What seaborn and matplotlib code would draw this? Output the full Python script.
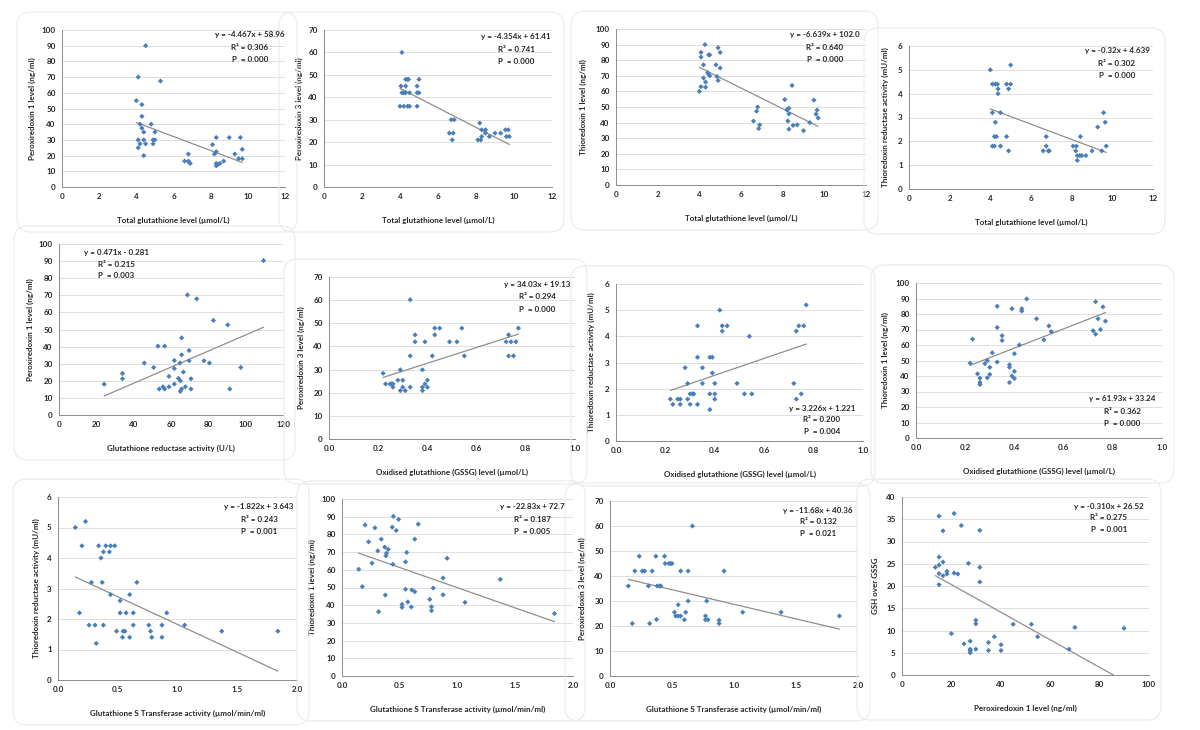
import numpy as np
import matplotlib
matplotlib.use("Agg")
import matplotlib.pyplot as plt
from matplotlib.ticker import FormatStrFormatter
from matplotlib.patches import FancyBboxPatch
from matplotlib.transforms import IdentityTransform
import seaborn as sns

# ---- values (one pair of lists per panel) ----
# row 1: total glutathione vs Prx1 / Prx3 / Trx1 / TrxR
p1_x = [4.0, 4.1, 4.5, 5.3, 4.3, 4.3, 4.2, 4.8, 4.3, 4.4, 4.1, 4.4, 4.2, 4.5, 4.1, 4.4, 5.0, 4.9, 5.0, 4.9,
        6.6, 6.8, 6.8, 6.9, 6.85, 8.1, 8.3, 8.2, 8.3, 8.3, 8.3, 8.4, 8.5, 8.7, 9.0, 9.3, 9.6, 9.7, 9.5, 9.7]
p1_y = [55, 70, 90, 67.5, 52.5, 45, 40, 40, 37.5, 35, 30, 30, 27.5, 27.5, 25, 20, 35, 30, 30, 27.5,
        16.5, 21, 16.5, 15, 15.5, 27, 31.5, 21, 22.5, 15, 13.5, 14.5, 15, 16.5, 31.5, 21, 31.5, 24, 18, 18]

p2_x = [4.1, 4.05, 4.3, 4.3, 4.4, 4.45, 4.1, 4.2, 4.3, 4.5, 4.0, 4.2, 4.4, 4.5, 4.9, 5.0, 4.9, 5.0, 4.9,
        6.6, 6.7, 6.85, 6.8, 6.75, 8.2, 8.1, 8.25, 8.3, 8.3, 8.5, 8.5, 8.7, 9.0, 9.3, 9.55, 9.7, 9.6, 9.75]
p2_y = [60, 45, 45, 48, 48, 48, 42, 42, 42, 42, 36, 36, 36, 36, 45, 48, 42, 42, 36,
        24, 30, 30, 24, 21, 28.5, 21, 21, 22.5, 25.5, 25.5, 24, 22.5, 24, 24, 25.5, 25.5, 22.5, 22.5]

p3_x = [4.27, 4.08, 4.08, 4.9, 5.0, 4.2, 4.45, 4.5, 4.8, 5.0, 4.4, 4.45, 4.5, 4.2, 4.3, 4.85, 4.9, 4.08, 4.3, 4.0,
        6.8, 6.75, 6.6, 6.9, 6.85, 8.1, 8.2, 8.3, 8.3, 8.45, 8.25, 8.5, 8.3, 8.7, 9.0, 9.3, 9.5, 9.6, 9.65, 9.7]
p3_y = [90, 85, 82, 88, 85, 77, 83.4, 83.4, 77, 75, 72, 71, 70, 68.6, 66, 69.5, 67, 63, 62.7, 60,
        50, 47.3, 41, 38.6, 36.2, 54.8, 48.2, 49.2, 45.6, 63.8, 41, 38.2, 35.8, 38.6, 34.8, 40, 54.4, 45.4, 48, 43]

p4_x = [4.0, 4.1, 4.25, 4.35, 4.38, 4.38, 4.8, 5.0, 4.9, 5.0, 4.1, 4.5, 4.25, 4.2, 4.3, 4.8, 4.1, 4.2, 4.5, 4.9,
        6.6, 6.75, 6.75, 6.85, 6.9, 8.07, 8.23, 8.2, 8.28, 8.28, 8.4, 8.5, 8.43, 8.7, 9.0, 9.28, 9.48, 9.57, 9.65, 9.7]
p4_y = [5.0, 4.4, 4.4, 4.4, 4.2, 4.0, 4.4, 4.4, 4.2, 5.2, 3.2, 3.2, 2.8, 2.2, 2.2, 2.2, 1.8, 1.8, 1.8, 1.6,
        1.6, 2.2, 1.8, 1.6, 1.6, 1.8, 1.8, 1.6, 1.4, 1.2, 1.4, 1.4, 2.2, 1.4, 1.6, 2.6, 1.6, 3.2, 2.8, 1.8]

# row 2: GR activity vs Prx1, GSSG vs Prx3 / TrxR / Trx1
p5_x = [24.2, 34, 34, 45.7, 50.7, 53, 56.6, 53.7, 55.7, 56.6, 58.9, 58.9, 61.8, 61.8, 61.8, 64, 65, 64.8, 65.7,
        65.7, 65.7, 65, 66.6, 67.7, 68.8, 69.7, 69.7, 70.7, 70.7, 73.8, 77.7, 80.6, 82.7, 90.4, 91.5, 97.4, 109.6]
p5_y = [18, 24.3, 21.2, 30.4, 27.8, 40.3, 40.3, 15.2, 16.5, 15.2, 22.6, 16.5, 31.9, 27.2, 18.1, 21.4, 20, 30.4, 45.1,
        35.2, 15.2, 13.8, 25.1, 16.5, 70.2, 37.7, 31.7, 21.2, 15.2, 67.9, 31.7, 30.4, 55.3, 52.7, 15.2, 27.8, 90.3]

p6_x = [0.22, 0.23, 0.248, 0.255, 0.26, 0.26, 0.28, 0.29, 0.29, 0.30, 0.30, 0.31, 0.33, 0.33, 0.33, 0.35, 0.35,
        0.38, 0.38, 0.38, 0.39, 0.39, 0.40, 0.40, 0.42, 0.43, 0.45, 0.43, 0.49, 0.52, 0.54, 0.55,
        0.72, 0.73, 0.73, 0.74, 0.75, 0.76, 0.77]
p6_y = [28.4, 23.8, 23.8, 23.8, 23.8, 22.4, 25.4, 29.9, 20.9, 25.4, 22.4, 20.9, 60.2, 35.9, 22.4, 45, 42,
        29.9, 22.4, 20.9, 23.8, 42, 25.4, 22.4, 35.9, 47.9, 47.9, 45, 42, 42, 47.9, 35.9,
        42, 45, 35.9, 42, 35.9, 42, 47.9]

p7_x = [0.22, 0.23, 0.25, 0.26, 0.26, 0.28, 0.29, 0.29, 0.30, 0.31, 0.315, 0.30, 0.33, 0.33, 0.33, 0.35, 0.35,
        0.38, 0.39, 0.38, 0.38, 0.39, 0.40, 0.40, 0.40, 0.42, 0.43, 0.45, 0.43, 0.49, 0.52, 0.54, 0.55,
        0.72, 0.73, 0.73, 0.74, 0.75, 0.76, 0.77]
p7_y = [1.6, 1.4, 1.6, 1.6, 1.4, 2.8, 2.2, 1.6, 1.8, 1.8, 1.8, 1.4, 4.4, 3.2, 1.4, 2.8, 2.2,
        3.2, 3.2, 1.8, 1.2, 2.6, 2.2, 1.8, 1.6, 5.0, 4.4, 4.4, 4.2, 2.2, 1.8, 4.0, 1.8,
        2.2, 4.2, 1.6, 4.4, 1.8, 4.4, 5.2]

p8_x = [0.22, 0.23, 0.25, 0.26, 0.26, 0.26, 0.28, 0.29, 0.29, 0.30, 0.30, 0.31, 0.33, 0.33, 0.33, 0.35, 0.35,
        0.38, 0.38, 0.38, 0.39, 0.39, 0.40, 0.40, 0.40, 0.42, 0.43, 0.43, 0.45, 0.49, 0.52, 0.54, 0.55,
        0.72, 0.73, 0.73, 0.74, 0.75, 0.76, 0.77]
p8_y = [48.3, 63.8, 41.4, 38.6, 35.8, 34.5, 48, 50, 38.8, 45.6, 41, 55, 85, 71.3, 49, 66, 62.9,
        47.3, 45.6, 35.8, 83.4, 40, 54.4, 43, 38.4, 60, 83.4, 81.9, 89.7, 76.9, 63.3, 72.3, 68.6,
        69.2, 87.9, 67, 76.9, 70, 84.6, 75.4]

# row 3: GST activity vs TrxR / Trx1 / Prx3, Prx1 vs GSH/GSSG
p9_x = [0.145, 0.23, 0.20, 0.18, 0.26, 0.28, 0.31, 0.32, 0.34, 0.36, 0.38, 0.37, 0.38, 0.40, 0.43, 0.44, 0.475,
        0.44, 0.49, 0.52, 0.52, 0.545, 0.54, 0.56, 0.57, 0.60, 0.60, 0.63, 0.63, 0.66, 0.76, 0.775, 0.785,
        0.87, 0.87, 0.91, 1.06, 1.37, 1.84]
p9_y = [5.0, 5.2, 4.4, 2.2, 1.8, 3.2, 1.8, 1.2, 4.4, 4.0, 4.2, 3.2, 1.8, 4.4, 4.2, 4.4, 4.4,
        2.8, 1.6, 2.6, 2.2, 1.6, 1.4, 1.6, 2.2, 2.8, 1.4, 2.2, 1.8, 3.2, 1.8, 1.6, 1.4,
        1.8, 1.4, 2.2, 1.8, 1.6, 1.6]

p10_x = [0.145, 0.176, 0.20, 0.23, 0.26, 0.285, 0.31, 0.317, 0.34, 0.37, 0.375, 0.38, 0.385, 0.40, 0.435,
         0.44, 0.445, 0.47, 0.49, 0.52, 0.52, 0.55, 0.55, 0.56, 0.57, 0.60, 0.605, 0.63, 0.63, 0.66,
         0.76, 0.775, 0.775, 0.79, 0.875, 0.875, 0.91, 1.065, 1.37, 1.84]
p10_y = [60.3, 50.5, 85.3, 75.8, 63.7, 83.7, 70.7, 36.3, 77.3, 72.8, 45.7, 67.9, 69.4, 71.6, 84.1,
         63.1, 90.2, 82.2, 88.5, 38.8, 40.5, 64.5, 49, 69.8, 41.8, 39, 48.6, 47.6, 77.3, 85.8,
         43.3, 36.9, 39.1, 49.7, 55.4, 45.9, 66.5, 41.6, 54.6, 35.3]

p11_x = [0.148, 0.18, 0.20, 0.236, 0.26, 0.28, 0.31, 0.32, 0.34, 0.37, 0.375, 0.38, 0.40, 0.41, 0.44,
         0.445, 0.475, 0.49, 0.50, 0.57, 0.52, 0.53, 0.55, 0.57, 0.55, 0.60, 0.61, 0.665, 0.63, 0.63,
         0.78, 0.77, 0.77, 0.79, 0.92, 0.88, 0.88, 1.07, 1.38, 1.85]
p11_y = [36, 21, 42, 47.9, 42, 42, 36, 21, 42, 47.9, 22.6, 36, 36, 36, 47.9,
         45, 45, 45, 45, 42, 25.5, 24, 24, 24, 28.5, 22.5, 25.5, 60, 42, 30,
         30, 24, 22.5, 22.5, 42, 22.3, 21, 25.5, 25.5, 24]

p12_x = [13.5, 15, 15, 15, 15, 15, 16.6, 16.6, 16.6, 18.2, 18.2, 20, 21.1, 21.1, 22.6, 24, 26.9, 27.6, 27.6,
         27.6, 27.6, 25.1, 29.9, 29.9, 29.9, 31.5, 31.5, 31.5, 35, 35, 37.4, 40.1, 40.1, 45, 52.4, 54.9,
         67.6, 70, 89.9]
p12_y = [24.2, 35.7, 26.5, 24.7, 22.8, 20.3, 32.4, 25.4, 22.3, 23.3, 22.7, 9.3, 36.3, 22.9, 22.7, 33.6, 25.1, 7.6, 5.8,
         5.0, 5.5, 7, 12.3, 11.5, 5.8, 32.5, 24.2, 20.9, 7.3, 5.5, 8.6, 6.8, 5.5, 11.4, 11.4, 8.6,
         5.8, 10.7, 10.5]

# trend lines as printed on each panel
fit_slope = [-4.467, -4.354, -6.639, -0.32, 0.471, 34.03, 3.226, 61.93, -1.822, -22.83, -11.68, -0.310]
fit_icept = [58.96, 61.41, 102.0, 4.639, -0.281, 19.13, 1.221, 33.24, 3.643, 72.7, 40.36, 26.52]
eq_text = ["y = -4.467x + 58.96", "y = -4.354x + 61.41", "y = -6.639x + 102.0", "y = -0.32x + 4.639",
           "y = 0.471x - 0.281", "y = 34.03x + 19.13", "y = 3.226x + 1.221", "y = 61.93x + 33.24",
           "y = -1.822x + 3.643", "y = -22.83x + 72.7", "y = -11.68x + 40.36", "y = -0.310x + 26.52"]
r2_text = ["0.306", "0.741", "0.640", "0.302", "0.215", "0.294", "0.200", "0.362", "0.243", "0.187", "0.132", "0.275"]
p_text = ["0.000", "0.000", "0.000", "0.000", "0.003", "0.000", "0.004", "0.000", "0.001", "0.005", "0.021", "0.001"]

tgsh = "Total glutathione level (µmol/L)"
gssg = "Oxidised glutathione (GSSG) level (µmol/L)"
gst = "Glutathione S Transferase activity (µmol/min/ml)"
prx1 = "Peroxiredoxin 1 level (ng/ml)"
prx3 = "Peroxiredoxin 3 level (ng/ml)"
trx1 = "Thioredoxin 1 level (ng/ml)"
trxr = "Thioredoxin reductase activity (mU/ml)"
x_titles = [tgsh, tgsh, tgsh, tgsh, "Glutathione reductase activity (U/L)", gssg, gssg, gssg, gst, gst, gst, prx1]
y_titles = [prx1, prx3, trx1, trxr, prx1, prx3, trxr, trx1, trxr, trx1, prx3, "GSH over GSSG"]

xs_all = [p1_x, p2_x, p3_x, p4_x, p5_x, p6_x, p7_x, p8_x, p9_x, p10_x, p11_x, p12_x]
ys_all = [p1_y, p2_y, p3_y, p4_y, p5_y, p6_y, p7_y, p8_y, p9_y, p10_y, p11_y, p12_y]

# ---- layout (pixels in the 1200x730 canvas) ----
W, H = 1200, 730
boxes = [(62, 285, 30, 187), (324, 552, 30, 187), (616, 866, 29, 185), (909, 1153, 46, 189),
         (59, 283, 244, 415), (329, 575, 277, 439), (616, 863, 284, 441), (916, 1162, 283, 438),
         (58, 297, 497, 680), (342, 573, 499, 676), (610, 858, 501, 676), (902, 1149, 497, 675)]
xaxis = [(12, 2, "%d")] * 4 + [(120, 20, "%d")] + [(1.0, 0.2, "%.1f")] * 3 + [(2.0, 0.5, "%.1f")] * 3 + [(100, 20, "%d")]
yaxis = [(100, 10), (70, 10), (100, 10), (6, 1), (100, 10), (70, 10), (6, 1), (100, 10),
         (6, 1), (100, 10), (70, 10), (40, 5)]
ylab_off = [30, 25, 33, 24, 29, 28, 25, 31, 22, 30, 28, 27]
ann_pos = [(250, 47), (516, 49), (825, 47), (1117, 63), (116, 264), (537, 297), (822, 420), (1122, 411),
           (259, 519), (532, 519), (818, 522), (1109, 518)]

sns.set_style("white")
plt.rcParams["font.family"] = ["Lato", "DejaVu Sans"]
txt = "#262626"
fs = 5.8

fig = plt.figure(figsize=(W / 100, H / 100), dpi=100)

for i in range(12):
    l, r, t, b = boxes[i]
    # faint rounded chart frame, as in the pasted Excel charts
    frame = FancyBboxPatch((l - 45, H - (b + 45)), (r - l) + 57, (b - t) + 63,
                           boxstyle="round,pad=0,rounding_size=14", transform=IdentityTransform(),
                           fill=False, edgecolor="#EAEAEA", linewidth=0.8)
    fig.add_artist(frame)

    ax = fig.add_axes([l / W, 1 - b / H, (r - l) / W, (b - t) / H])
    xs, ys = xs_all[i], ys_all[i]
    sns.scatterplot(x=xs, y=ys, ax=ax, marker="D", s=7, color="#4A7EBB", edgecolor="none", linewidth=0, zorder=3)
    xl = np.array([min(xs), max(xs)])
    ax.plot(xl, fit_slope[i] * xl + fit_icept[i], color="#8E8E8E", lw=0.9, zorder=2)

    xmax, xstep, xf = xaxis[i]
    ymax, ystep = yaxis[i]
    ax.set_xlim(0, xmax)
    ax.set_ylim(0, ymax)
    ax.set_xticks(np.arange(0, xmax + xstep / 2, xstep))
    ax.set_yticks(np.arange(0, ymax + ystep / 2, ystep))
    ax.xaxis.set_major_formatter(FormatStrFormatter(xf))
    ax.yaxis.set_major_formatter(FormatStrFormatter("%d"))
    ax.yaxis.grid(True, color="#D9D9D9", lw=0.6)
    ax.set_axisbelow(True)
    for s in ["top", "right"]:
        ax.spines[s].set_visible(False)
    for s in ["left", "bottom"]:
        ax.spines[s].set_color("#8A8A8A")
        ax.spines[s].set_linewidth(0.7)
    ax.tick_params(length=2.5, width=0.6, color="#8A8A8A", labelsize=fs, labelcolor=txt, pad=2)
    for lab in ax.get_xticklabels() + ax.get_yticklabels():
        lab.set_fontweight("bold")

    ax.set_xlabel(x_titles[i], fontsize=fs, color=txt, fontweight="bold")
    ax.set_ylabel(y_titles[i], fontsize=fs, color=txt, fontweight="bold")
    ax.xaxis.set_label_coords(0.5, -33 / (b - t))
    ax.xaxis.label.set_va("center")
    ax.yaxis.set_label_coords(-ylab_off[i] / (r - l), 0.5)
    ax.yaxis.label.set_va("center")

    cx, cy = ann_pos[i]
    lines = [eq_text[i], "R² = " + r2_text[i], "P  = " + p_text[i]]
    for k, s in enumerate(lines):
        fig.text(cx / W, 1 - (cy + (k - 1) * 12) / H, s, ha="center", va="center",
                 fontsize=fs, fontweight="bold", color=txt)

fig.savefig("out.png", dpi=100, facecolor="white")
